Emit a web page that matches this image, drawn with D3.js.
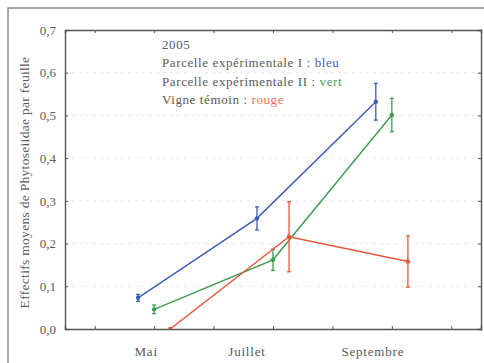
<!DOCTYPE html>
<html>
<head>
<meta charset="utf-8">
<script src="https://d3js.org/d3.v7.min.js"></script>
<style>
body { margin: 0; background: #fff; }
svg { display: block; font-family: 'Liberation Serif', 'Times New Roman', serif; }
</style>
</head>
<body>
<svg></svg>
<script>
// months on the x axis (4 = avril ... 10 = octobre)
const months = [5, 7, 9];
const monthLabels = ["Mai", "Juillet", "Septembre"];
const seriesNames = ["Parcelle expérimentale I", "Parcelle expérimentale II", "Vigne témoin"];
const colourNames = ["bleu", "vert", "rouge"];
const blueMean = [0.073, 0.259, 0.532];
const blueErr = [0.008, 0.027, 0.043];
const greenMean = [0.046, 0.162, 0.501];
const greenErr = [0.010, 0.025, 0.039];
const redMean = [0.0, 0.216, 0.158];
const redErr = [0.0, 0.082, 0.060];
const yTicks = [0, 0.1, 0.2, 0.3, 0.4, 0.5, 0.6, 0.7];
const xTicks = [4, 5, 6, 7, 8, 9, 10];

const width = 484, height = 363;
const m = {left: 65, top: 30, right: 3, bottom: 34};
const colours = ["#3d5cb6", "#3d9a4f", "#e8553b"];
const legendColours = ["#3d5cb6", "#4a9a55", "#ec7257"];
const dodge = [-0.27, 0, 0.27];
const serif = "'Liberation Serif', 'Times New Roman', serif";
const textCol = "#5a5a5a";

const svg = d3.select("svg").attr("width", width).attr("height", height);

// outer frame
svg.append("path")
  .attr("d", `M8,${height}V8H${width}`)
  .attr("fill", "none").attr("stroke", "#888").attr("stroke-width", 1.5);

const x = d3.scaleLinear().domain([3.5, 10.5]).range([m.left, width - m.right]);
const y = d3.scaleLinear().domain([0, 0.7]).range([height - m.bottom, m.top]);

// faint grid
svg.append("g").selectAll("line")
  .data(yTicks.slice(1, -1))
  .join("line")
  .attr("x1", m.left).attr("x2", width - m.right)
  .attr("y1", d => y(d)).attr("y2", d => y(d))
  .attr("stroke", "#e8e8e8").attr("stroke-dasharray", "3,4");

const axisCol = "#555";
const gx = svg.append("g").attr("transform", `translate(0,${y(0)})`)
  .call(d3.axisBottom(x).tickValues(xTicks).tickSize(-3).tickFormat(""));
const gxTop = svg.append("g").attr("transform", `translate(0,${m.top})`)
  .call(d3.axisTop(x).tickValues(xTicks).tickSize(-3).tickFormat(""));
const gy = svg.append("g").attr("transform", `translate(${m.left},0)`)
  .call(d3.axisLeft(y).tickValues(yTicks).tickSize(-3).tickPadding(9)
    .tickFormat(d => d3.format(".1f")(d).replace(".", ",")));
const gyRight = svg.append("g").attr("transform", `translate(${width - m.right},0)`)
  .call(d3.axisRight(y).tickValues(yTicks).tickSize(-3).tickFormat(""));

[gx, gxTop, gy, gyRight].forEach(g => {
  g.attr("font-family", serif);
  g.selectAll(".domain").attr("stroke", axisCol).attr("stroke-width", 1.4);
  g.selectAll(".tick line").attr("stroke", axisCol);
});
gy.selectAll("text").attr("font-size", 13).attr("fill", textCol);

// month labels (placed a bit left of their tick, as in the original)
const labelShift = [-8, -26, -19];
svg.append("g").selectAll("text")
  .data(monthLabels)
  .join("text")
  .attr("x", (d, i) => x(months[i]) + labelShift[i])
  .attr("y", 356)
  .attr("text-anchor", "middle")
  .attr("font-size", 13).attr("fill", textCol).attr("letter-spacing", 0.8)
  .text(d => d);

// y title
svg.append("text")
  .attr("transform", `translate(29,${(m.top + y(0)) / 2 + 3}) rotate(-90)`)
  .attr("text-anchor", "middle")
  .attr("font-size", 13.5).attr("fill", textCol).attr("letter-spacing", 0.3)
  .text("Effectifs moyens de Phytoseiidae par feuille");

// series
const series = [
  {mean: blueMean, err: blueErr},
  {mean: greenMean, err: greenErr},
  {mean: redMean, err: redErr}
];

svg.append("clipPath").attr("id", "plot")
  .append("rect").attr("x", m.left).attr("y", m.top)
  .attr("width", width - m.right - m.left).attr("height", y(0) - m.top);

series.forEach((s, k) => {
  const pts = months.map((mo, i) => ({x: mo + dodge[k], v: s.mean[i], e: s.err[i]}));
  const g = svg.append("g").attr("clip-path", "url(#plot)");
  g.append("path")
    .datum(pts)
    .attr("fill", "none").attr("stroke", colours[k]).attr("stroke-width", 1.4)
    .attr("d", d3.line().x(d => x(d.x)).y(d => y(d.v)));
  const eb = g.selectAll("g.eb").data(pts.filter(d => d.e > 0)).join("g")
    .attr("stroke", colours[k]).attr("stroke-width", 1.3);
  eb.append("line")
    .attr("x1", d => x(d.x)).attr("x2", d => x(d.x))
    .attr("y1", d => y(d.v - d.e)).attr("y2", d => y(d.v + d.e));
  eb.append("line")
    .attr("x1", d => x(d.x) - 2).attr("x2", d => x(d.x) + 2)
    .attr("y1", d => y(d.v - d.e)).attr("y2", d => y(d.v - d.e));
  eb.append("line")
    .attr("x1", d => x(d.x) - 2).attr("x2", d => x(d.x) + 2)
    .attr("y1", d => y(d.v + d.e)).attr("y2", d => y(d.v + d.e));
  g.selectAll("circle").data(pts).join("circle")
    .attr("cx", d => x(d.x)).attr("cy", d => y(d.v)).attr("r", 2.2)
    .attr("fill", colours[k]);
});

// legend
const legend = svg.append("g")
  .attr("font-size", 13).attr("fill", textCol).attr("letter-spacing", 0.6)
  .style("white-space", "pre");
legend.append("text").attr("x", 162).attr("y", 49).text("2005");
seriesNames.forEach((name, i) => {
  const t = legend.append("text").attr("x", 162).attr("y", 67 + i * 18.5);
  t.append("tspan").text(name + " :  ");
  t.append("tspan").attr("fill", legendColours[i]).text(colourNames[i]);
});
</script>
</body>
</html>
